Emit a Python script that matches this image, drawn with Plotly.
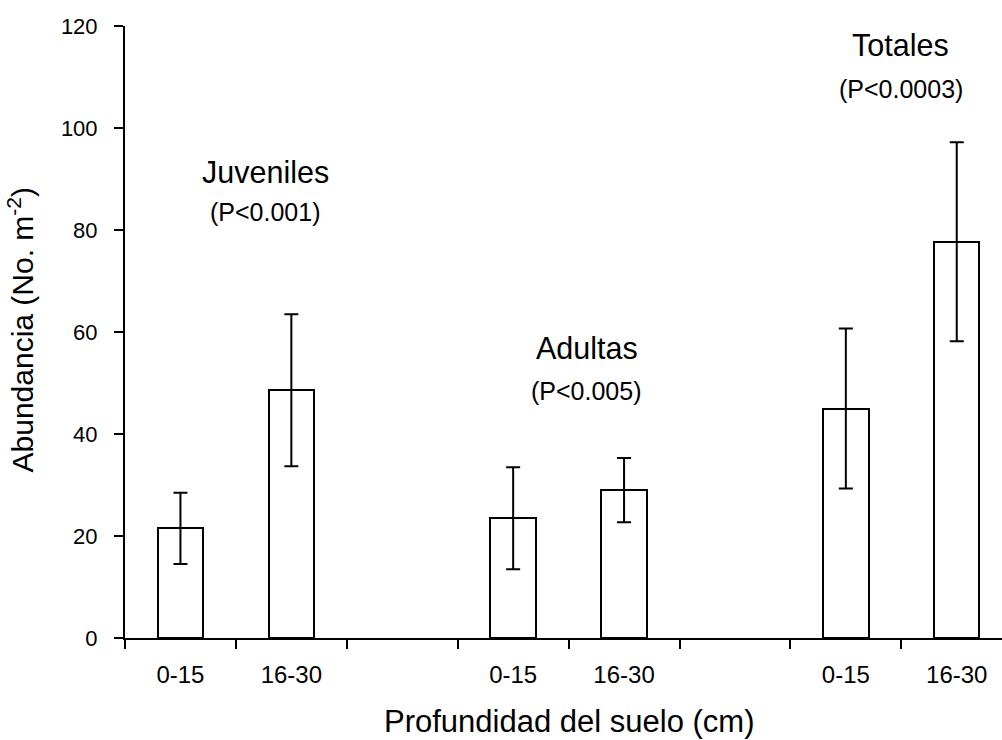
import plotly.graph_objects as go

# Soil depth classes and groups
groups = ["Juveniles", "Adultas", "Totales"]
depths = ["0-15", "16-30"]
p_values = ["(P<0.001)", "(P<0.005)", "(P<0.0003)"]

# Mean abundance (No. m^-2) and error per group, in depth order
juveniles_mean = [21.5, 48.6]
juveniles_err = [7.0, 14.9]
adultas_mean = [23.5, 29.0]
adultas_err = [10.0, 6.3]
totales_mean = [45.0, 77.7]
totales_err = [15.7, 19.5]

y_ticks = [0, 20, 40, 60, 80, 100, 120]

means = [juveniles_mean, adultas_mean, totales_mean]
errs = [juveniles_err, adultas_err, totales_err]

# Category slots: two bars per group with an empty slot between groups
categories, tick_text = [], []
bar_x, bar_y, bar_e = [], [], []
for gi, g in enumerate(groups):
    for di, d in enumerate(depths):
        key = f"{g} {d}"
        categories.append(key)
        tick_text.append(d)
        bar_x.append(key)
        bar_y.append(means[gi][di])
        bar_e.append(errs[gi][di])
    if gi < len(groups) - 1:
        categories.append(f"sep{gi}")
        tick_text.append("")

FONT = "Liberation Sans, Arial, sans-serif"

fig = go.Figure()
fig.add_trace(go.Bar(
    x=bar_x,
    y=bar_y,
    width=0.41,
    marker=dict(color="white", line=dict(color="black", width=2)),
    error_y=dict(type="data", array=bar_e, visible=True,
                 color="black", thickness=2, width=7),
    showlegend=False,
    hoverinfo="skip",
))

# Group names and significance levels
label_x = [0.77, 3.665, 6.495]
name_y = [91.3, 56.8, 116.2]
p_y = [83.6, 48.4, 107.6]
annotations = []
for g, p, lx, ny, py in zip(groups, p_values, label_x, name_y, p_y):
    annotations.append(dict(x=lx, y=ny, xref="x", yref="y", text=g,
                            showarrow=False, xanchor="center", yanchor="middle",
                            font=dict(family=FONT, size=30.5, color="black")))
    annotations.append(dict(x=lx, y=py, xref="x", yref="y", text=p,
                            showarrow=False, xanchor="center", yanchor="middle",
                            font=dict(family=FONT, size=25, color="black")))

# Axis titles
annotations.append(dict(x=3.5, y=-0.136, xref="x", yref="paper",
                        text="Profundidad del suelo (cm)", showarrow=False,
                        xanchor="center", yanchor="middle",
                        font=dict(family=FONT, size=31, color="black")))
annotations.append(dict(x=0, xshift=-104, y=60.5, xref="paper", yref="y",
                        text="Abundancia (No. m<sup>-2</sup>)", textangle=-90,
                        showarrow=False, xanchor="center", yanchor="middle",
                        font=dict(family=FONT, size=30, color="black")))

fig.update_layout(
    width=1002,
    height=740,
    margin=dict(l=125, r=0, t=26, b=102),
    paper_bgcolor="white",
    plot_bgcolor="white",
    font=dict(family=FONT, color="black"),
    bargap=0,
    annotations=annotations,
    xaxis=dict(
        type="category",
        categoryorder="array",
        categoryarray=categories,
        tickmode="array",
        tickvals=categories,
        ticktext=tick_text,
        tickson="boundaries",
        range=[-0.5, -0.5 + 877 / 110.9],
        showline=True, linecolor="black", linewidth=2,
        ticks="outside", ticklen=9, tickwidth=2, tickcolor="black",
        tickfont=dict(family=FONT, size=24, color="black"),
        ticklabelstandoff=14,
        showgrid=False, zeroline=False,
    ),
    yaxis=dict(
        range=[0, 120],
        tickmode="array",
        tickvals=y_ticks,
        showline=True, linecolor="black", linewidth=2,
        ticks="outside", ticklen=9, tickwidth=2, tickcolor="black",
        tickfont=dict(family=FONT, size=22, color="black"),
        ticklabelstandoff=12,
        showgrid=False, zeroline=False,
    ),
)

fig.write_html("out.html")
